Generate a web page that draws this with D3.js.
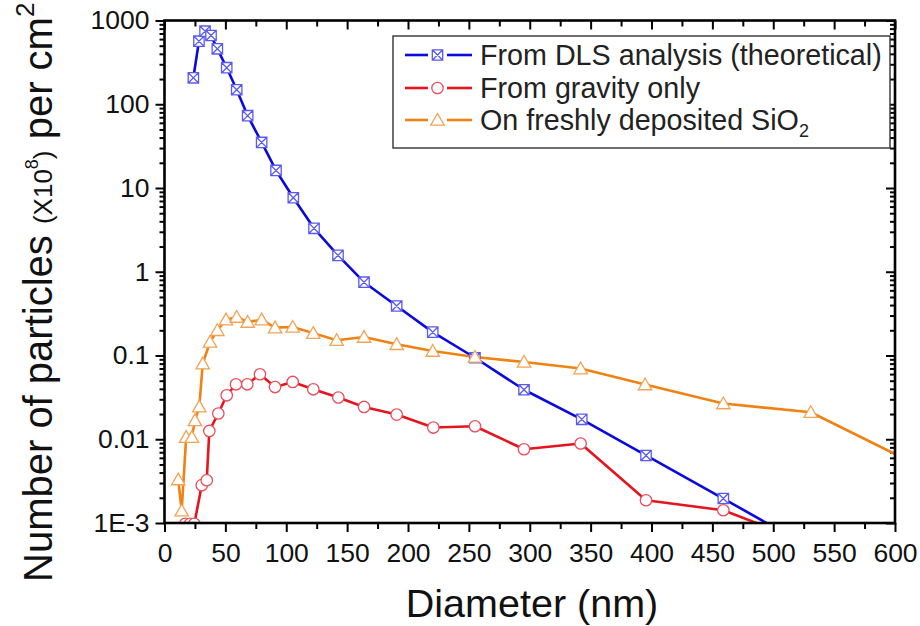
<!DOCTYPE html>
<html>
<head>
<meta charset="utf-8">
<script src="https://cdn.jsdelivr.net/npm/d3@7"></script>
<style>
  html, body { margin: 0; padding: 0; background: #fff; }
  svg { display: block; font-family: "Liberation Sans", Arial, sans-serif; }
</style>
</head>
<body>
<svg id="chart" width="920" height="626"></svg>
<script>
// ---- Data (diameter nm, particles x1e8 per cm^2) ----
const dlsDiam = [23.7, 28.3, 33.3, 38.2, 43.4, 51.1, 59.3, 68.3, 79.8, 91.6, 105.8, 122.8, 142.5, 163.9, 190.7, 220.3, 255, 295.3, 342.7, 395.5, 459, 531];
const dlsVals = [207, 566, 745, 662, 459, 273, 149, 73, 35, 16.2, 7.65, 3.3, 1.57, 0.75, 0.39, 0.19, 0.094, 0.039, 0.0173, 0.0064, 0.00196, 0.0005];

const gravDiam = [17, 21, 24.5, 30.6, 34.7, 36.8, 44.2, 51.1, 58.7, 68, 78.4, 90.8, 105.3, 122.2, 142.8, 163.9, 190.7, 220.8, 255, 295.3, 341.8, 395.5, 459, 531];
const gravVals = [0.00098, 0.00098, 0.00098, 0.00283, 0.00324, 0.01256, 0.0203, 0.0335, 0.0453, 0.0453, 0.0597, 0.042, 0.0483, 0.0395, 0.0315, 0.0243, 0.0197, 0.0138, 0.0143, 0.0076, 0.0089, 0.00187, 0.00142, 0.00056];

const sio2Diam = [11.3, 14.1, 17.8, 22.5, 25, 28.6, 31.4, 37.4, 43.4, 50.5, 59.3, 68.3, 79.8, 90.8, 105.3, 122.2, 141.4, 163.9, 190.7, 220.3, 255, 295.3, 341.8, 394.7, 459, 530.8, 616];
const sio2Vals = [0.0033, 0.0014, 0.0106, 0.0106, 0.0168, 0.0245, 0.080, 0.145, 0.20, 0.268, 0.288, 0.251, 0.268, 0.215, 0.219, 0.185, 0.152, 0.166, 0.136, 0.113, 0.096, 0.0836, 0.0698, 0.045, 0.0267, 0.021, 0.0051];

const xTickValues = [0, 50, 100, 150, 200, 250, 300, 350, 400, 450, 500, 550, 600];
const yTickValues = [1e-3, 1e-2, 1e-1, 1, 10, 100, 1000];
const yTickLabels = ["1E-3", "0.01", "0.1", "1", "10", "100", "1000"];

const seriesNames = ["From DLS analysis (theoretical)", "From gravity only", "On freshly deposited SiO"];

// ---- Layout ----
const X0 = 164.5, X1 = 895, Y0 = 20.5, Y1 = 523;
const svg = d3.select("#chart");
const x = d3.scaleLinear().domain([0, 600]).range([X0, X1]);
const y = d3.scaleLog().domain([1e-3, 1000]).range([Y1, Y0]);

const colors = {
  dls:  { line: "#0a0ae0", mark: "#5a5af0" },
  grav: { line: "#e6141e", mark: "#e8505c" },
  sio2: { line: "#f08214", mark: "#f0a456" }
};

const series = [
  { key: "dls",  d: dlsDiam,  v: dlsVals,  shape: "sqx" },
  { key: "grav", d: gravDiam, v: gravVals, shape: "circle" },
  { key: "sio2", d: sio2Diam, v: sio2Vals, shape: "tri" }
];

svg.append("defs").append("clipPath").attr("id", "plotclip")
  .append("rect").attr("x", X0).attr("y", Y0).attr("width", X1 - X0).attr("height", Y1 - Y0);

const fontFam = '"Liberation Sans", Arial, sans-serif';

function markerPath(shape) {
  if (shape === "sqx") {
    const s = 5.2;
    return `M${-s},${-s}H${s}V${s}H${-s}Z M${-s},${-s}L${s},${s} M${s},${-s}L${-s},${s}`;
  } else if (shape === "circle") {
    const r = 5.7;
    return `M${r},0A${r},${r} 0 1,1 ${-r},0A${r},${r} 0 1,1 ${r},0Z`;
  } else {
    return "M0,-6.5L6.7,5.2L-6.7,5.2Z";
  }
}

// ---- Axes ticks ----
const minorX = d3.range(25, 600, 50);
const minorY = [];
for (let e = -3; e < 3; e++) for (let m = 2; m <= 9; m++) minorY.push(m * Math.pow(10, e));

function styleAxis(g) {
  g.select(".domain").remove();
  g.selectAll("line").attr("stroke", "#000").attr("stroke-width", 2);
  g.selectAll("text").attr("font-family", fontFam).attr("font-size", 26.5).attr("fill", "#111");
}

// bottom
svg.append("g").attr("transform", `translate(0,${Y1})`)
  .call(d3.axisBottom(x).tickValues(xTickValues).tickSize(9).tickPadding(11).tickFormat(d3.format("d")))
  .call(styleAxis);
svg.append("g").attr("transform", `translate(0,${Y1})`)
  .call(d3.axisBottom(x).tickValues(minorX).tickSize(6).tickFormat(""))
  .call(styleAxis);
// top (inward)
svg.append("g").attr("transform", `translate(0,${Y0})`)
  .call(d3.axisTop(x).tickValues(xTickValues).tickSize(-9).tickFormat(""))
  .call(styleAxis);
svg.append("g").attr("transform", `translate(0,${Y0})`)
  .call(d3.axisTop(x).tickValues(minorX).tickSize(-6).tickFormat(""))
  .call(styleAxis);
// left
svg.append("g").attr("transform", `translate(${X0},0)`)
  .call(d3.axisLeft(y).tickValues(yTickValues).tickSize(9).tickPadding(6)
    .tickFormat(d => yTickLabels[yTickValues.indexOf(d)]))
  .call(styleAxis);
svg.append("g").attr("transform", `translate(${X0},0)`)
  .call(d3.axisLeft(y).tickValues(minorY).tickSize(5).tickFormat(""))
  .call(styleAxis);
// right (inward)
svg.append("g").attr("transform", `translate(${X1},0)`)
  .call(d3.axisRight(y).tickValues(yTickValues).tickSize(-9).tickFormat(""))
  .call(styleAxis);
svg.append("g").attr("transform", `translate(${X1},0)`)
  .call(d3.axisRight(y).tickValues(minorY).tickSize(-5).tickFormat(""))
  .call(styleAxis);

// ---- Series ----
const plot = svg.append("g").attr("clip-path", "url(#plotclip)");
const line = d3.line().x(p => x(p[0])).y(p => y(p[1]));
series.forEach(s => {
  const pts = s.d.map((d, i) => [d, s.v[i]]);
  plot.append("path").datum(pts)
    .attr("d", line).attr("fill", "none")
    .attr("stroke", colors[s.key].line).attr("stroke-width", 2.6)
    .attr("stroke-linejoin", "round");
});
series.forEach(s => {
  const pts = s.d.map((d, i) => [d, s.v[i]]);
  plot.append("g").selectAll("path").data(pts).join("path")
    .attr("transform", p => `translate(${x(p[0])},${y(p[1])})`)
    .attr("d", markerPath(s.shape))
    .attr("fill", "#fff")
    .attr("stroke", colors[s.key].mark).attr("stroke-width", 1.3);
});

// frame
svg.append("rect").attr("x", X0).attr("y", Y0).attr("width", X1 - X0).attr("height", Y1 - Y0)
  .attr("fill", "none").attr("stroke", "#000").attr("stroke-width", 2.6);

// ---- Legend ----
const lg = svg.append("g");
lg.append("rect").attr("x", 393).attr("y", 36).attr("width", 497).attr("height", 112)
  .attr("fill", "#fff").attr("stroke", "#333").attr("stroke-width", 1.4);
const rowsY = [55, 88, 120];
series.forEach((s, i) => {
  const cy = rowsY[i];
  lg.append("line").attr("x1", 405).attr("x2", 428).attr("y1", cy).attr("y2", cy)
    .attr("stroke", colors[s.key].line).attr("stroke-width", 2.6);
  lg.append("line").attr("x1", 447).attr("x2", 472).attr("y1", cy).attr("y2", cy)
    .attr("stroke", colors[s.key].line).attr("stroke-width", 2.6);
  lg.append("path").attr("transform", `translate(437.5,${cy})`).attr("d", markerPath(s.shape))
    .attr("fill", "#fff").attr("stroke", colors[s.key].mark).attr("stroke-width", 1.3);
  const t = lg.append("text").attr("x", 480).attr("y", cy + 10)
    .attr("font-family", fontFam).attr("font-size", 28.7).attr("fill", "#222")
    .text(seriesNames[i]);
  if (i === 2) {
    t.append("tspan").attr("font-size", 18).attr("dy", 7).text("2");
  }
});

// ---- Axis titles ----
svg.append("text").attr("x", 532).attr("y", 617).attr("text-anchor", "middle")
  .attr("font-family", fontFam).attr("font-size", 39.5).attr("fill", "#111")
  .text("Diameter (nm)");

const yt = svg.append("text").attr("transform", "translate(52,582) rotate(-90)")
  .attr("font-family", fontFam).attr("font-size", 40).attr("fill", "#111");
yt.append("tspan").text("Number of particles ");
yt.append("tspan").attr("font-size", 26).text("(X10");
yt.append("tspan").attr("font-size", 18).attr("dy", -14).text("8");
yt.append("tspan").attr("font-size", 26).attr("dy", 14).text(")");
yt.append("tspan").text(" per cm");
yt.append("tspan").attr("font-size", 26).attr("dy", -18).text("2");
</script>
</body>
</html>
